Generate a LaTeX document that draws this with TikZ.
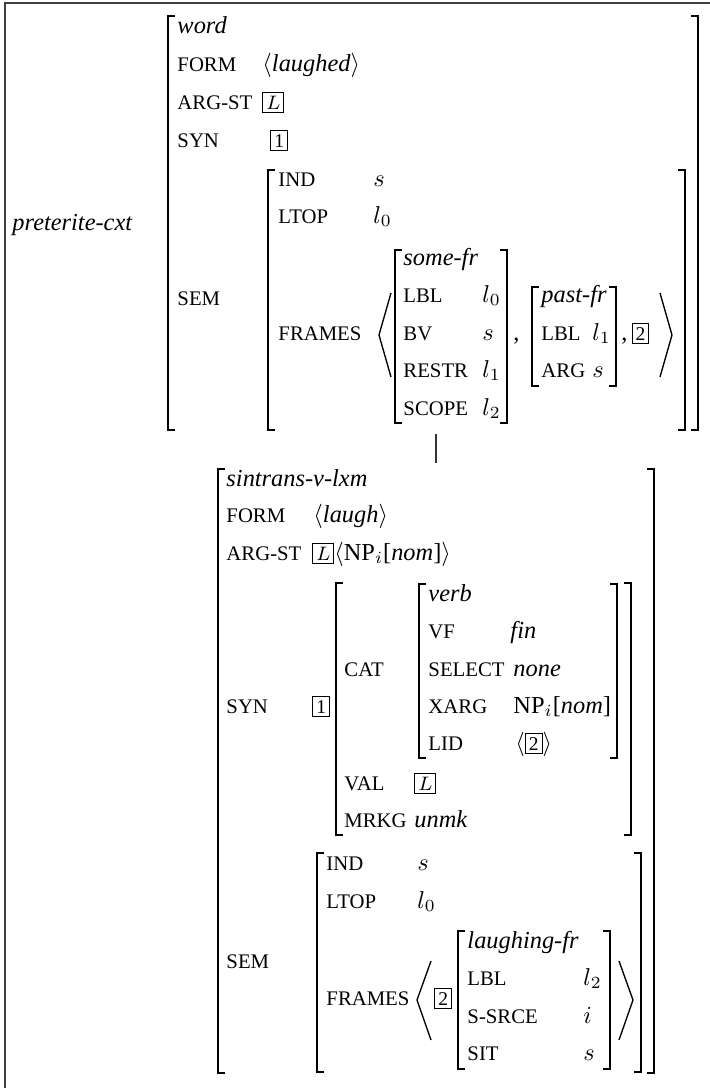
\documentclass[tikz,border=0pt]{standalone}
\usepackage{fontspec}
\setmainfont{Liberation Serif}
\newcommand{\feat}{\fontsize{8.5pt}{10pt}\selectfont}
\newcommand{\tagbox}[1]{{\setlength{\fboxsep}{1.2pt}\setlength{\fboxrule}{0.4pt}\fbox{\footnotesize #1}}}

\begin{document}
\begin{tikzpicture}[x=0.41pt, y=-0.41pt,
  attr/.style={anchor=base west, inner sep=0pt, font=\feat},
  val/.style={anchor=base west, inner sep=0pt},
  typ/.style={anchor=base west, inner sep=0pt, font=\itshape},
  brk/.style={line width=0.55pt},
  outline/.style={line width=0.6pt, black!75}]
\useasboundingbox (0,0) rectangle (709,1088);
\draw[outline] (5,1095) -- (5,3) -- (715,3);

% upper AVM: the word
\node[typ] (cxt) at (12,230) {preterite-cxt};
\node[typ] (wtype) at (177,33) {word};
\node[attr] (wform) at (177,71) {FORM};
\node[val] (wformv) at (262,71) {$\langle$\textit{laughed}$\rangle$};
\node[attr] (wargst) at (177,109) {ARG-ST};
\node[val] (wargstv) at (262,109) {\tagbox{$L$}};
\node[attr] (wsyn) at (177,147) {SYN};
\node[val] (wsynv) at (270,147) {\tagbox{1}};
\node[attr] (wsem) at (177,305) {SEM};
\node[attr] (wind) at (278,186) {IND};
\node[val] (windv) at (373,186) {$s$};
\node[attr] (wltop) at (278,223) {LTOP};
\node[val] (wltopv) at (373,223) {$l_0$};
\node[attr] (wframes) at (278,340) {FRAMES};
\node[typ] (some) at (403,265) {some-fr};
\node[attr] (somelbl) at (403,302) {LBL};
\node[val] (somelblv) at (482,302) {$l_0$};
\node[attr] (somebv) at (403,340) {BV};
\node[val] (somebvv) at (482,340) {$s$};
\node[attr] (somerestr) at (403,377) {RESTR};
\node[val] (somerestrv) at (482,377) {$l_1$};
\node[attr] (somescope) at (403,415) {SCOPE};
\node[val] (somescopev) at (482,415) {$l_2$};
\node[val] (comma) at (513,340) {,};
\node[typ] (past) at (541,302) {past-fr};
\node[attr] (pastlbl) at (541,340) {LBL};
\node[val] (pastlblv) at (592,340) {$l_1$};
\node[attr] (pastarg) at (541,377) {ARG};
\node[val] (pastargv) at (592,377) {$s$};
\node[val] (pasttag) at (621,340) {,\,\tagbox{2}};

\foreach \l/\r/\t/\b in {168/698/16/430, 268/685/170/430, 395/507/250/423, 532/616/287/386}
  \draw[brk] (\l+7,\t) -- (\l,\t) -- (\l,\b) -- (\l+7,\b)
             (\r-7,\t) -- (\r,\t) -- (\r,\b) -- (\r-7,\b);
\draw[brk] (391,293) -- (379,335) -- (391,377);
\draw[brk] (660,293) -- (672,335) -- (660,377);

% link between the two AVMs
\coordinate (upper) at (436,434);
\coordinate (lower) at (436,463);
\draw[line width=0.45pt, black!80] (upper) -- (lower);

% lower AVM: the lexeme
\node[typ] (lex) at (226,486) {sintrans-v-lxm};
\node[attr] (lform) at (226,522) {FORM};
\node[val] (lformv) at (313,522) {$\langle$\textit{laugh}$\rangle$};
\node[attr] (largst) at (226,560) {ARG-ST};
\node[val] (largstv) at (312,560) {\tagbox{$L$}$\langle$NP$_i$[\textit{nom}]$\rangle$};
\node[attr] (lsyn) at (226,713) {SYN};
\node[val] (lsynv) at (312,713) {\tagbox{1}};
\node[attr] (lcat) at (344,676) {CAT};
\node[typ] (head) at (428,601) {verb};
\node[attr] (vf) at (428,638) {VF};
\node[typ] (vfv) at (510,638) {fin};
\node[attr] (select) at (428,676) {SELECT};
\node[typ] (selectv) at (513,676) {none};
\node[attr] (xarg) at (428,713) {XARG};
\node[val] (xargv) at (513,713) {NP$_i$[\textit{nom}]};
\node[attr] (lid) at (428,750) {LID};
\node[val] (lidv) at (515,750) {$\langle$\tagbox{2}$\rangle$};
\node[attr] (lval) at (344,790) {VAL};
\node[val] (lvalv) at (414,790) {\tagbox{$L$}};
\node[attr] (lmrkg) at (344,827) {MRKG};
\node[typ] (lmrkgv) at (414,827) {unmk};
\node[attr] (lsem) at (226,968) {SEM};
\node[attr] (lind) at (326,870) {IND};
\node[val] (lindv) at (417,870) {$s$};
\node[attr] (lltop) at (326,908) {LTOP};
\node[val] (lltopv) at (417,908) {$l_0$};
\node[attr] (lframes) at (326,1005) {FRAMES};
\node[val] (lframesv) at (434,1005) {\tagbox{2}};
\node[typ] (laugh) at (467,948) {laughing-fr};
\node[attr] (laughlbl) at (467,985) {LBL};
\node[val] (laughlblv) at (583,985) {$l_2$};
\node[attr] (laughsrc) at (467,1023) {S-SRCE};
\node[val] (laughsrcv) at (583,1023) {$i$};
\node[attr] (laughsit) at (467,1060) {SIT};
\node[val] (laughsitv) at (583,1060) {$s$};

\foreach \l/\r/\t/\b in {218/654/469/1073, 336/631/583/835, 419/617/584/758, 317/641/853/1072, 458/610/931/1069}
  \draw[brk] (\l+7,\t) -- (\l,\t) -- (\l,\b) -- (\l+7,\b)
             (\r-7,\t) -- (\r,\t) -- (\r,\b) -- (\r-7,\b);
\draw[brk] (431,961) -- (417,1000) -- (431,1040);
\draw[brk] (619,961) -- (633,1000) -- (619,1040);
\end{tikzpicture}
\end{document}
